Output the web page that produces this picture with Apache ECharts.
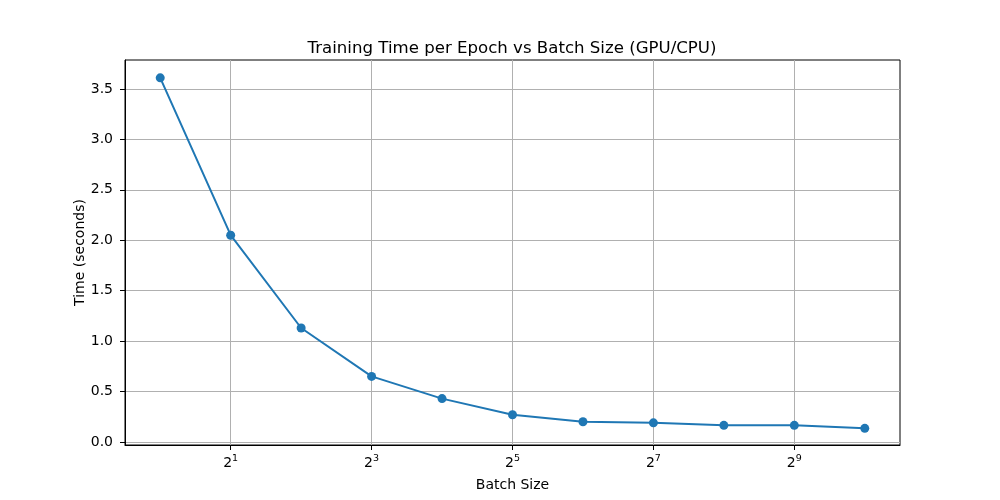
<!DOCTYPE html>
<html>
<head>
<meta charset="utf-8">
<script src="https://cdn.jsdelivr.net/npm/echarts@6/dist/echarts.min.js"></script>
<style>
  html, body { margin: 0; padding: 0; background: #fff; }
  #main { width: 1000px; height: 500px; }
</style>
</head>
<body>
<div id="main"></div>
<script>
const batchSizes = [1, 2, 4, 8, 16, 32, 64, 128, 256, 512, 1024];
const epochTimes = [3.61, 2.05, 1.13, 0.65, 0.43, 0.27, 0.20, 0.19, 0.165, 0.165, 0.135];
const xTickValues = [2, 8, 32, 128, 512];
const yTickValues = [0, 0.5, 1.0, 1.5, 2.0, 2.5, 3.0, 3.5];

const font = "DejaVu Sans";
let myChart = echarts.init(document.getElementById("main"));
myChart.setOption({
  animation: false,
  textStyle: { fontFamily: font },
  title: {
    text: "Training Time per Epoch vs Batch Size (GPU/CPU)",
    left: 507,
    top: 35,
    textAlign: "center",
    textStyle: { fontFamily: font, fontSize: 16.6, fontWeight: "normal", color: "#000" },
  },
  grid: {
    left: 125,
    right: 100,
    top: 60,
    bottom: 55,
    show: true,
    borderColor: "#000",
    borderWidth: 1,
    backgroundColor: "transparent",
  },
  xAxis: {
    type: "log",
    logBase: 2,
    min: Math.pow(2, -0.5),
    max: Math.pow(2, 10.5),
    name: "Batch Size",
    nameLocation: "middle",
    nameGap: 33,
    nameMoveOverlap: false,
    nameTextStyle: { fontFamily: font, fontSize: 14, color: "#000" },
    axisLine: { show: true, onZero: false, lineStyle: { color: "#000", width: 1 } },
    axisTick: { show: true, inside: false, length: 5, customValues: xTickValues, lineStyle: { color: "#000" } },
    axisLabel: {
      customValues: xTickValues,
      margin: 9,
      formatter: (v) => "{b|2}{s|" + Math.round(Math.log2(v)) + "}",
      rich: {
        b: { fontFamily: font, fontSize: 14, color: "#000" },
        s: { fontFamily: font, fontSize: 9.5, color: "#000", padding: [0, 0, 8, 0] },
      },
    },
    splitLine: { show: true, lineStyle: { color: "#b0b0b0", width: 1 } },
    minorTick: { show: false },
    minorSplitLine: { show: false },
  },
  yAxis: {
    type: "value",
    min: -0.03,
    max: 3.787,
    name: "Time (seconds)",
    nameLocation: "middle",
    nameGap: 38,
    nameMoveOverlap: false,
    nameTextStyle: { fontFamily: font, fontSize: 14, color: "#000" },
    axisLine: { show: true, lineStyle: { color: "#000", width: 1 } },
    axisTick: { show: true, inside: false, length: 5, customValues: yTickValues, lineStyle: { color: "#000" } },
    axisLabel: {
      customValues: yTickValues,
      margin: 12,
      fontFamily: font,
      fontSize: 14,
      color: "#000",
      formatter: (v) => v.toFixed(1),
    },
    splitLine: { show: true, lineStyle: { color: "#b0b0b0", width: 1 } },
  },
  series: [
    {
      type: "line",
      data: batchSizes.map((b, i) => [b, epochTimes[i]]),
      symbol: "circle",
      symbolSize: 9,
      color: "#1f77b4",
      lineStyle: { width: 2, color: "#1f77b4" },
      itemStyle: { color: "#1f77b4" },
    },
  ],
});
</script>
</body>
</html>
